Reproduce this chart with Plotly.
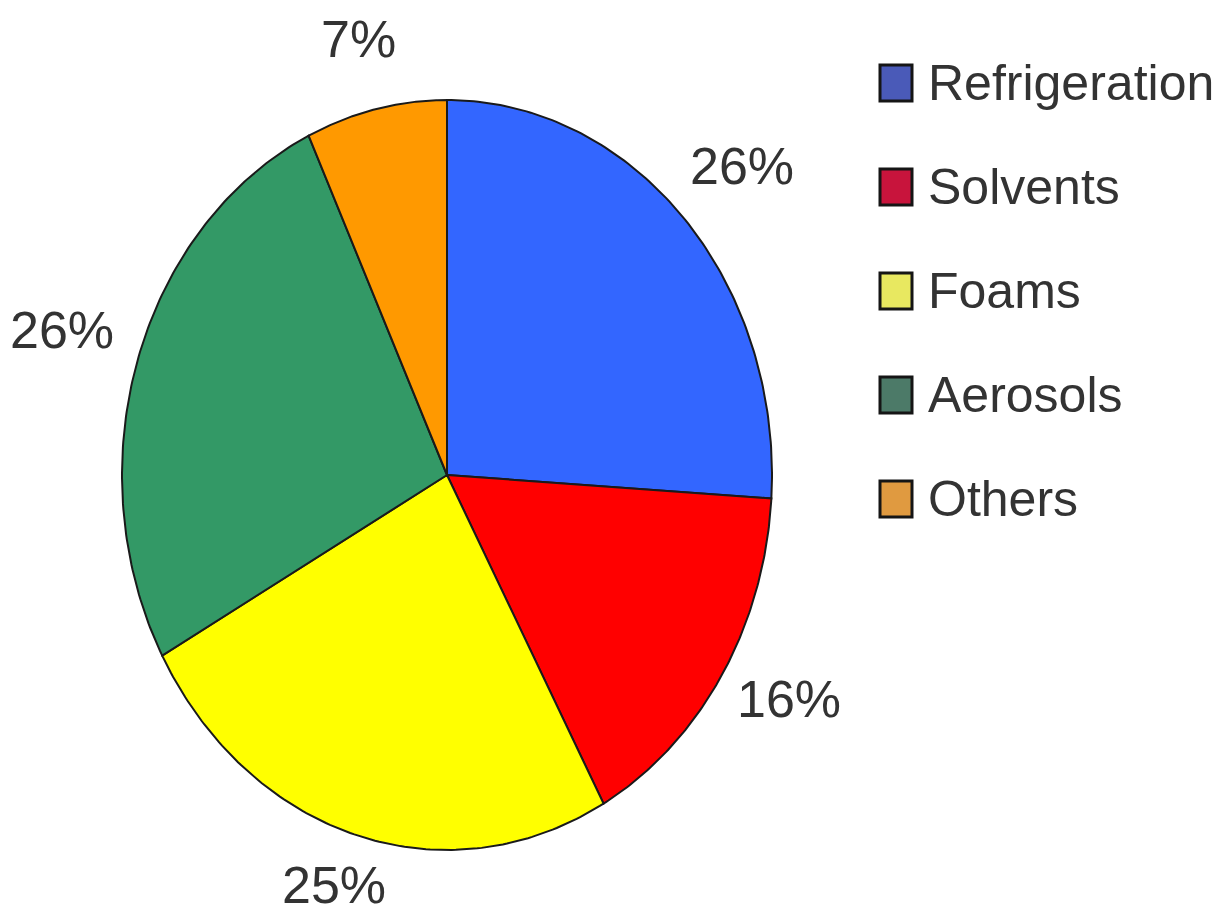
import numpy as np
import plotly.graph_objects as go

categories = ["Refrigeration", "Solvents", "Foams", "Aerosols", "Others"]
values = [26, 16, 25, 26, 7]
colors = ["#3366ff", "#ff0000", "#ffff00", "#339966", "#ff9900"]
legend_colors = ["#4a5ab8", "#c8143c", "#e8e860", "#4c7a68", "#e09a40"]

W, H = 1225, 918
PAGE_OFF = 8  # page body margin offset of the plot div
cx, cy, rx, ry = 447, 475, 325, 375
lab_dx, lab_dy, lab_lift = 80, 62, 10  # label offset beyond the rim
FONT = "Liberation Sans, Arial, sans-serif"

fig = go.Figure()
total = float(sum(values))
start = 0.0
for cat, v, col in zip(categories, values, colors):
    a0 = 2 * np.pi * start / total
    a1 = 2 * np.pi * (start + v) / total
    th = np.linspace(a0, a1, 120)
    xs = np.concatenate([[cx], cx + rx * np.sin(th), [cx]])
    ys = np.concatenate([[cy], cy - ry * np.cos(th), [cy]])
    fig.add_trace(go.Scatter(x=xs, y=ys, mode="lines", fill="toself",
                             fillcolor=col, line=dict(color="#1a1a1a", width=2),
                             name=cat, showlegend=False, hoverinfo="skip"))
    am = (a0 + a1) / 2
    fig.add_annotation(x=cx + (rx + lab_dx) * np.sin(am),
                       y=cy - (ry + lab_dy) * np.cos(am),
                       yshift=lab_lift, borderpad=0,
                       text=f"{v}%", showarrow=False,
                       font=dict(family=FONT, size=52, color="#333333"))
    start += v

# custom legend (large square swatches)
leg_x0, leg_y0, leg_step, sw_w, sw_h = 880, 83, 104, 32, 36
for i, (cat, lc) in enumerate(zip(categories, legend_colors)):
    yc = leg_y0 + i * leg_step
    fig.add_shape(type="rect", xref="x", yref="y",
                  x0=leg_x0, x1=leg_x0 + sw_w, y0=yc - sw_h / 2, y1=yc + sw_h / 2,
                  fillcolor=lc, line=dict(color="#151515", width=3))
    fig.add_annotation(x=leg_x0 + 46, y=yc, xref="x", yref="y", text=cat,
                       showarrow=False, xanchor="left", yanchor="middle",
                       font=dict(family=FONT, size=50, color="#333333"))

fig.update_layout(
    width=W, height=H,
    margin=dict(l=0, r=0, t=0, b=0, autoexpand=False),
    paper_bgcolor="white", plot_bgcolor="white",
    xaxis=dict(range=[PAGE_OFF, W + PAGE_OFF], visible=False, fixedrange=True),
    yaxis=dict(range=[H + PAGE_OFF, PAGE_OFF], visible=False, fixedrange=True),
    showlegend=False,
)
fig.write_html("out.html")
